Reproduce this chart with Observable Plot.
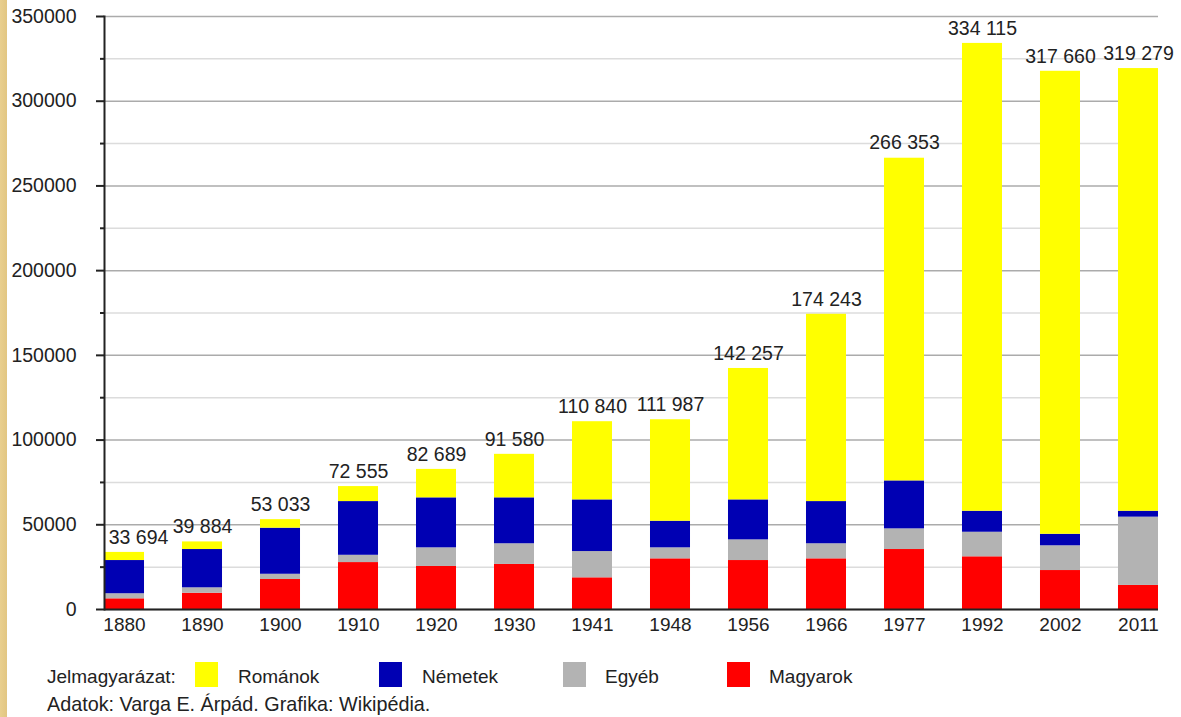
<!DOCTYPE html>
<html><head><meta charset="utf-8">
<script src="https://cdn.jsdelivr.net/npm/d3@7"></script>
<script src="https://cdn.jsdelivr.net/npm/@observablehq/plot@0.6"></script>
<style>
body{margin:0;background:#fff;font-family:"Liberation Sans",Arial,sans-serif;}
#wrap{position:relative;width:1181px;height:717px;overflow:hidden;background:#fff;}
#strip{position:absolute;left:0;top:0;width:7px;height:717px;background:linear-gradient(90deg,#e9cf8e,#e2c682);}
#chart{position:absolute;left:0;top:0;}
.leg{position:absolute;font-size:19px;color:#222;line-height:20px;white-space:nowrap;}
.sw{position:absolute;width:23px;height:25px;}
</style></head><body>
<div id="wrap">
  <div id="chart"></div>
  <div id="strip"></div>
  <div id="legend"></div>
</div>
<script>
const years = ["1880","1890","1900","1910","1920","1930","1941","1948","1956","1966","1977","1992","2002","2011"];
const series = ["Magyarok","Egyéb","Németek","Románok"];
const colors = ["#ff0000","#b3b3b3","#0000b3","#ffff00"];
const magyarok = [6300, 9600, 17700, 27700, 25400, 26600, 18700, 29900, 28900, 29900, 35400, 31100, 23000, 14200];
const egyeb    = [3000, 3200, 3100, 4300, 11000, 12200, 15500, 6500, 12200, 8900, 12200, 14500, 14600, 40300];
const nemetek  = [19600, 22600, 27200, 31700, 29500, 27100, 30500, 15700, 23600, 24900, 28300, 12400, 6800, 3500];
const romanok  = [4794, 4484, 5033, 8855, 16789, 25680, 46140, 59887, 77557, 110543, 190453, 276115, 273260, 261279];
const totals   = [33694, 39884, 53033, 72555, 82689, 91580, 110840, 111987, 142257, 174243, 266353, 334115, 317660, 319279];
const majorTicks = [0, 50000, 100000, 150000, 200000, 250000, 300000, 350000];
const minorTicks = [25000, 75000, 125000, 175000, 225000, 275000, 325000];
const legendOrder = ["Románok","Németek","Egyéb","Magyarok"];

const values = [magyarok, egyeb, nemetek, romanok];
const rows = [];
series.forEach((s, i) => years.forEach((y, j) => rows.push({year: y, group: s, value: values[i][j]})));
const labelRows = years.map((y, i) => ({year: y, total: totals[i]}));
const fmt = d3.formatLocale({thousands: " ", grouping: [3], decimal: ",", currency: ["", ""]}).format(",d");
const labelOpts = {x: "year", y: "total", text: d => fmt(d.total), dy: -15, fontSize: 19.5, fill: "#222"};

const chart = Plot.plot({
  width: 1181, height: 645,
  marginLeft: 104, marginRight: 23, marginTop: 16, marginBottom: 36,
  style: {fontFamily: "'Liberation Sans', Arial, sans-serif", fontSize: "19px", color: "#222", background: "transparent"},
  x: {domain: years, paddingInner: 0.487, paddingOuter: 0, round: false, label: null},
  y: {domain: [0, 350000], label: null},
  color: {domain: series, range: colors},
  marks: [
    Plot.gridY(minorTicks, {stroke: "#dcdcdc", strokeOpacity: 1, strokeWidth: 1.5}),
    Plot.gridY(majorTicks, {stroke: "#ababab", strokeOpacity: 1, strokeWidth: 1.5}),
    Plot.barY(rows, {x: "year", y: "value", fill: "group", order: series}),
    Plot.text(labelRows.slice(0, 1), {...labelOpts, dx: 14}),
    Plot.text(labelRows.slice(1), labelOpts),
    Plot.ruleY([0], {stroke: "#222", strokeWidth: 2}),
    Plot.frame({anchor: "left", stroke: "#222", strokeWidth: 2}),
    Plot.axisY(majorTicks, {tickSize: 8, tickPadding: 20, tickFormat: d => String(d), stroke: "#222", strokeWidth: 2, fontSize: 19.5, label: null}),
    Plot.axisY(minorTicks, {tickSize: 4, tickFormat: () => "", stroke: "#222", strokeWidth: 2, label: null}),
    Plot.axisX({tickSize: 0, tickPadding: 8, fontSize: 19, label: null})
  ]
});
document.getElementById("chart").appendChild(chart);

// legend
const leg = document.getElementById("legend");
const swatchX = [195, 379, 563, 727];
const textX = [238, 422, 605, 769];
const addText = (txt, x, y, size) => { const d = document.createElement("div"); d.className = "leg"; d.textContent = txt; d.style.left = x + "px"; d.style.top = y + "px"; if (size) d.style.fontSize = size + "px"; leg.appendChild(d); };
addText("Jelmagyarázat:", 47, 667);
legendOrder.forEach((name, i) => {
  const sw = document.createElement("div");
  sw.className = "sw";
  sw.style.left = swatchX[i] + "px";
  sw.style.top = "662px";
  sw.style.background = colors[series.indexOf(name)];
  leg.appendChild(sw);
  addText(name, textX[i], 667);
});
addText("Adatok: Varga E. Árpád. Grafika: Wikipédia.", 47, 694, 19.8);
</script>
</body></html>
